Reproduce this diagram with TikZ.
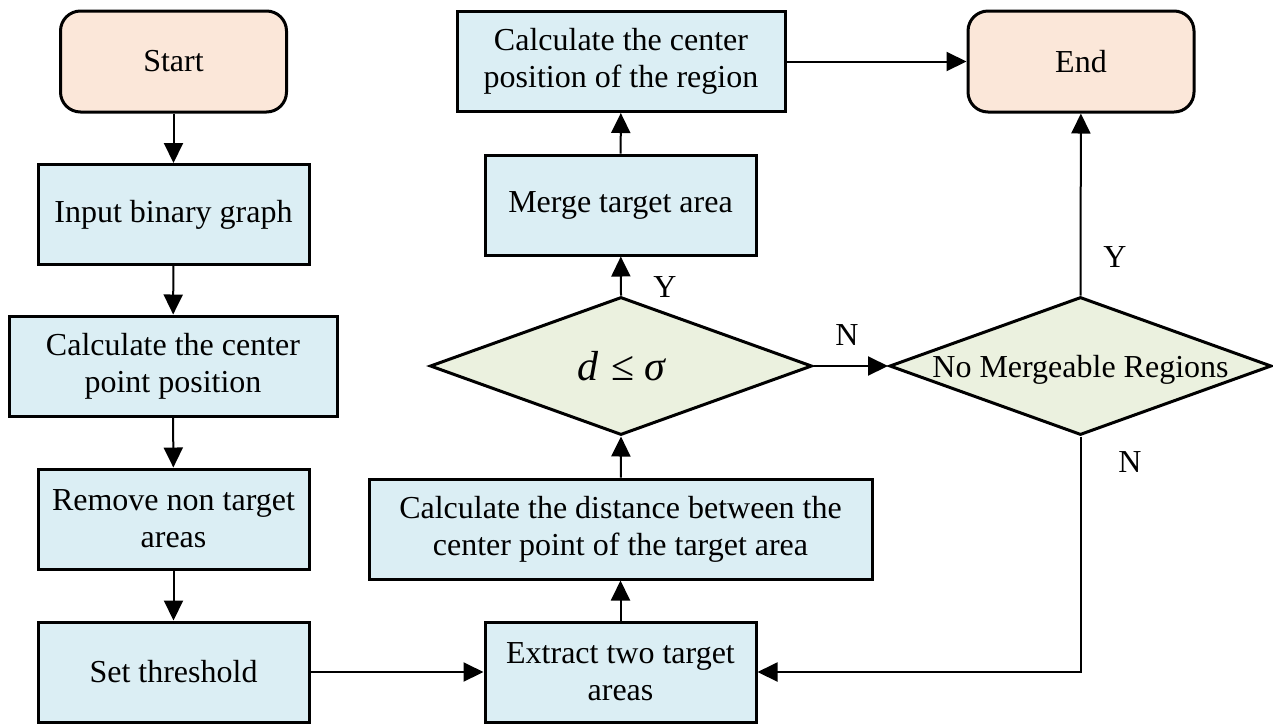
\documentclass[tikz,border=0pt]{standalone}
\usepackage{fontspec}
\setmainfont{Liberation Serif}
\usetikzlibrary{shapes.geometric,arrows.meta}

\definecolor{termfill}{HTML}{FBE7D9}
\definecolor{procfill}{HTML}{DBEEF4}
\definecolor{decfill}{HTML}{EBF1DF}

\tikzset{
  base/.style={draw=black, line width=3pt, inner sep=0pt, align=center,
    font=\fontsize{32}{37}\selectfont},
  terminal/.style={base, fill=termfill, rounded corners=20pt,
    minimum width=226pt, minimum height=101pt},
  procbox/.style={base, fill=procfill, minimum height=100pt},
  decision/.style={base, diamond, fill=decfill, minimum width=382pt,
    minimum height=138pt},
  flow/.style={line width=2pt, -{Triangle[length=20pt,width=19pt]}},
  branch/.style={font=\fontsize{32}{37}\selectfont}
}

% text of a decision, with its baseline a fixed distance below the centre
\newcommand{\decisiontext}[2]{\makebox[0pt]{\raisebox{-#1}[0pt][0pt]{#2}}}

\begin{document}
\begin{tikzpicture}[x=1pt,y=-1pt]
  \useasboundingbox (0,0) rectangle (1273,724);

  % left column
  \node[terminal] (start) at (173.5,61.5) {Start};
  \node[procbox, minimum width=271pt] (input) at (173.5,214.5) {Input binary graph};
  \node[procbox, minimum width=328pt] (centre) at (173,366) {Calculate the center\\point position};
  \node[procbox, minimum width=271pt] (remove) at (173.5,519) {Remove non target\\areas};
  \node[procbox, minimum width=271pt] (thresh) at (173.5,672) {Set threshold};

  % middle column
  \node[procbox, minimum width=271pt] (extract) at (620.5,672) {Extract two target\\areas};
  \node[procbox, minimum width=503pt] (dist) at (620.5,529) {Calculate the distance between the\\center point of the target area};
  \node[decision] (cmp) at (621,366) {\decisiontext{14pt}{\fontsize{42}{46}\selectfont\itshape d\/\kern 13pt\upshape≤\kern 10pt\itshape σ}};
  \node[procbox, minimum width=271pt] (merge) at (620.5,205) {Merge target area};
  \node[procbox, minimum width=328pt] (region) at (621,61.5) {Calculate the center\\position of the region};

  % right column
  \node[terminal] (stop) at (1081,61.5) {End};
  \node[decision] (nomerge) at (1080.5,366) {\decisiontext{11pt}{No Mergeable Regions}};

  % connectors
  \draw[flow] (start) -- (input);
  \draw[flow] (input) -- (centre);
  \draw[flow] (centre) -- (remove);
  \draw[flow] (remove) -- (thresh);
  \draw[flow] (thresh) -- (extract);
  \draw[flow] (extract) -- (dist);
  \draw[flow] (dist) -- (cmp.south);
  \draw[flow] (cmp.north) -- (merge);
  \draw[flow] (merge) -- (region);
  \draw[flow] (region) -- (stop);
  \draw[flow] (cmp.east) -- (nomerge.west);
  \draw[flow] (nomerge.north) -- (stop);
  \draw[flow] (nomerge.south) |- (extract.east);

  % branch labels
  \node[branch] (ylab1) at (665,287) {Y};
  \node[branch] (nlab1) at (847,335) {N};
  \node[branch] (ylab2) at (1115,257) {Y};
  \node[branch] (nlab2) at (1130,462) {N};
\end{tikzpicture}
\end{document}
